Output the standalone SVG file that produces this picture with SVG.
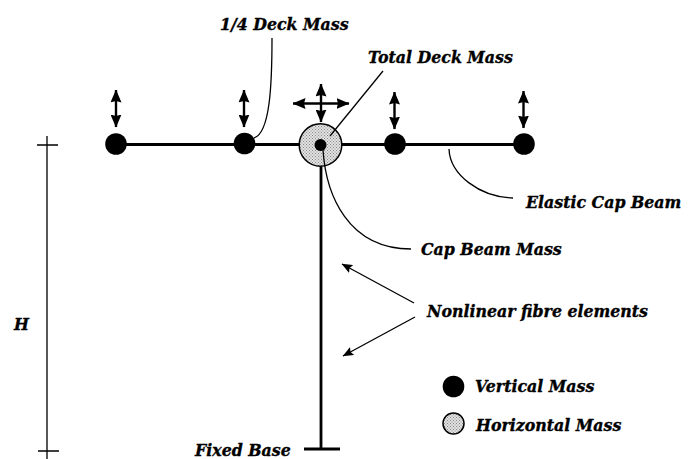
<svg xmlns="http://www.w3.org/2000/svg" width="691" height="459" viewBox="0 0 691 459">
<style>
text{font-family:"DejaVu Serif",serif;font-weight:bold;font-style:italic;font-size:15.8px;fill:#000;stroke:#000;stroke-width:0.35}
.thin{fill:none;stroke:#000;stroke-width:1.3}
.beam{fill:none;stroke:#000;stroke-width:2.8}
.dbl{fill:none;stroke:#000;stroke-width:2.4;marker-start:url(#head);marker-end:url(#head)}
.lead{fill:none;stroke:#000;stroke-width:1.3;marker-end:url(#small)}
.mass{fill:#000}
.hmass{fill:url(#stip);stroke:#000;stroke-width:1.5}
</style>
<defs>
<pattern id="stip" width="3" height="3" patternUnits="userSpaceOnUse">
<rect width="3" height="3" fill="#e2e2e2"/>
<rect x="0" y="0" width="1" height="1" fill="#888"/>
<rect x="1.5" y="1.5" width="1" height="1" fill="#888"/>
</pattern>
<marker id="head" viewBox="0 0 13 11" refX="12.500" refY="5.500" markerUnits="userSpaceOnUse" markerWidth="13" markerHeight="11" orient="auto-start-reverse">
<path d="M0 0L13 5.500L0 11L1.500 5.500Z" fill="#000"/>
</marker>
<marker id="small" viewBox="0 0 11 9" refX="10.500" refY="4.500" markerUnits="userSpaceOnUse" markerWidth="11" markerHeight="9" orient="auto">
<path d="M0 0L11 4.500L0 9L2 4.500Z" fill="#000"/>
</marker>
</defs>
<g id="node-1"><circle class="mass" cx="116" cy="144" r="10.800"/></g>
<g id="node-2"><circle class="mass" cx="244.500" cy="143.500" r="10.800"/></g>
<g id="node-3"><circle class="hmass" cx="320.500" cy="145" r="21.300"/><circle class="mass" cx="320.500" cy="145" r="6"/></g>
<g id="node-4"><circle class="mass" cx="395" cy="144" r="10.800"/></g>
<g id="node-5"><circle class="mass" cx="524" cy="144" r="10.800"/></g>
<g id="connectors">
<path class="beam" d="M116 144.500H299M342 144.500H525"/>
<path class="beam" d="M321 167V449"/>
<path class="beam" d="M304 449H340"/>
<path class="thin" d="M37 145H58M47 136V459M38 451H59"/>
<path class="thin" d="M272 38C272 85 270 133 254 138"/>
<path class="thin" d="M383 71L330 136"/>
<path class="thin" d="M323 150C326 195 348 249 411 249"/>
<path class="thin" d="M449 149C450 175 480 197 513 198"/>
<path class="lead" d="M414 303L342 264"/>
<path class="lead" d="M415 317L343 356"/>
<path class="dbl" d="M116 90V127"/>
<path class="dbl" d="M244 90V127"/>
<path class="dbl" d="M394.500 92V129"/>
<path class="dbl" d="M523.500 91V128"/>
<path class="dbl" d="M321 84V122"/>
<path class="dbl" d="M293 103.500H349"/>
</g>
<g id="legend-vertical"><circle class="mass" cx="453.500" cy="386.500" r="10.800"/><text x="475" y="392">Vertical Mass</text></g>
<g id="legend-horizontal"><circle class="hmass" cx="453.500" cy="423.500" r="10.500"/><text x="476" y="431">Horizontal Mass</text></g>
<g id="labels">
<text x="220" y="30">1/4 Deck Mass</text>
<text x="368" y="63">Total Deck Mass</text>
<text x="526" y="208">Elastic Cap Beam</text>
<text x="421" y="255">Cap Beam Mass</text>
<text x="427" y="317">Nonlinear fibre elements</text>
<text x="14" y="330">H</text>
<text x="195" y="456">Fixed Base</text>
</g>
</svg>
